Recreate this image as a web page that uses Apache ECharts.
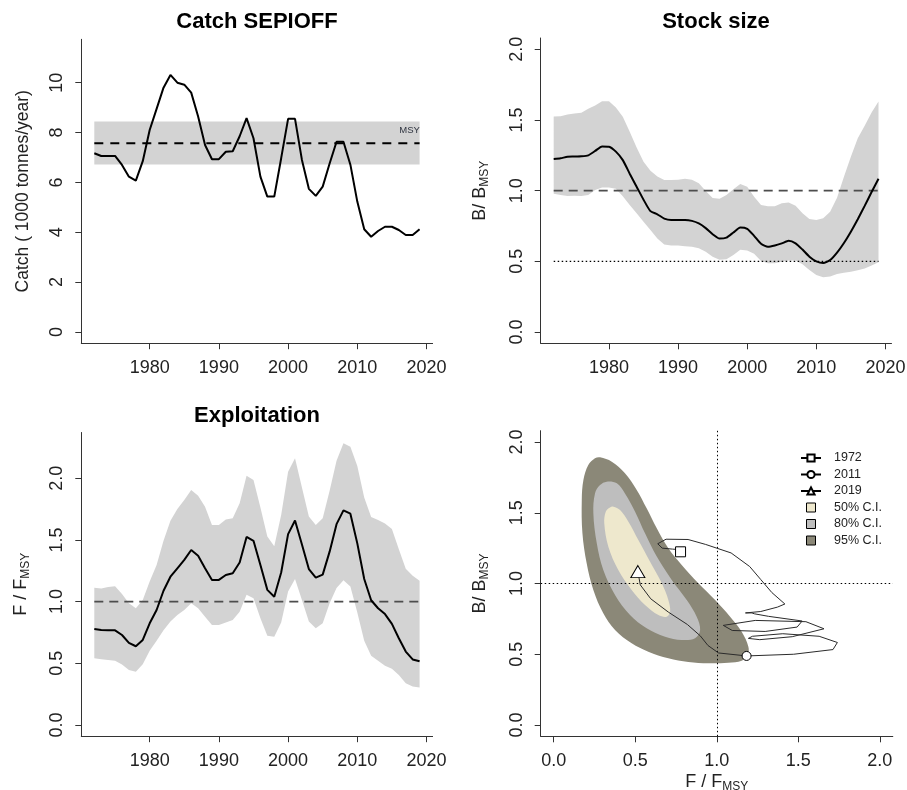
<!DOCTYPE html>
<html>
<head>
<meta charset="utf-8">
<script src="https://cdn.jsdelivr.net/npm/echarts@6/dist/echarts.min.js"></script>
<style>
  html, body { margin: 0; padding: 0; background: #ffffff; }
  #chart { width: 907px; height: 790px; }
</style>
</head>
<body>
<div id="chart"></div>
<script>
// ---- data -------------------------------------------------------------
const years = [1972, 1973, 1974, 1975, 1976, 1977, 1978, 1979, 1980, 1981,
               1982, 1983, 1984, 1985, 1986, 1987, 1988, 1989, 1990, 1991,
               1992, 1993, 1994, 1995, 1996, 1997, 1998, 1999, 2000, 2001,
               2002, 2003, 2004, 2005, 2006, 2007, 2008, 2009, 2010, 2011,
               2012, 2013, 2014, 2015, 2016, 2017, 2018, 2019];

// catch, 1000 tonnes/year
const catchMed = [7.17, 7.06, 7.06, 7.06, 6.70, 6.23, 6.07, 6.85, 8.10, 8.95,
                  9.80, 10.31, 10.00, 9.92, 9.60, 8.64, 7.50, 6.93, 6.93, 7.23,
                  7.25, 7.85, 8.58, 7.77, 6.23, 5.43, 5.43, 6.97, 8.55, 8.55,
                  6.90, 5.74, 5.46, 5.83, 6.76, 7.63, 7.63, 6.71, 5.23, 4.12,
                  3.82, 4.05, 4.22, 4.22, 4.09, 3.89, 3.89, 4.12];
const msy = 7.57;
const msyLo = 6.72;
const msyHi = 8.44;

// relative biomass B/Bmsy
const bMed = [1.224, 1.229, 1.240, 1.241, 1.243, 1.250, 1.281, 1.313, 1.311, 1.276,
              1.216, 1.120, 1.028, 0.936, 0.855, 0.833, 0.802, 0.792, 0.792, 0.792,
              0.786, 0.768, 0.735, 0.692, 0.661, 0.668, 0.704, 0.739, 0.730, 0.680,
              0.624, 0.603, 0.612, 0.627, 0.645, 0.627, 0.583, 0.533, 0.500, 0.488,
              0.509, 0.562, 0.630, 0.710, 0.798, 0.892, 0.990, 1.084];
const bLo = [0.978, 0.969, 0.963, 0.964, 0.963, 0.969, 1.004, 1.022, 1.022, 1.014,
             0.960, 0.899, 0.840, 0.780, 0.721, 0.662, 0.619, 0.612, 0.612, 0.606,
             0.603, 0.592, 0.568, 0.533, 0.511, 0.514, 0.545, 0.582, 0.577, 0.553,
             0.503, 0.486, 0.486, 0.497, 0.506, 0.506, 0.480, 0.438, 0.403, 0.387,
             0.393, 0.410, 0.420, 0.427, 0.436, 0.450, 0.471, 0.494];
const bHi = [1.524, 1.526, 1.538, 1.546, 1.551, 1.579, 1.602, 1.633, 1.633, 1.588,
             1.523, 1.417, 1.305, 1.205, 1.140, 1.100, 1.075, 1.075, 1.078, 1.084,
             1.078, 1.053, 0.998, 0.948, 0.942, 0.969, 1.010, 1.047, 1.028, 0.957,
             0.899, 0.889, 0.889, 0.910, 0.916, 0.893, 0.840, 0.800, 0.792, 0.804,
             0.851, 0.950, 1.099, 1.240, 1.370, 1.460, 1.553, 1.630];
const bTarget = 1.0;
const bLimit = 0.5;

// relative fishing mortality F/Fmsy
const fMed = [0.778, 0.769, 0.767, 0.767, 0.729, 0.665, 0.638, 0.689, 0.824, 0.932,
              1.088, 1.202, 1.270, 1.338, 1.418, 1.372, 1.270, 1.176, 1.176, 1.216,
              1.230, 1.317, 1.524, 1.493, 1.297, 1.095, 1.040, 1.236, 1.547, 1.658,
              1.463, 1.264, 1.194, 1.219, 1.405, 1.628, 1.740, 1.713, 1.472, 1.183,
              1.011, 0.946, 0.899, 0.820, 0.703, 0.595, 0.531, 0.516];
const fLo = [0.540, 0.533, 0.527, 0.520, 0.490, 0.446, 0.432, 0.493, 0.602, 0.683,
             0.767, 0.838, 0.892, 0.932, 0.986, 0.946, 0.878, 0.811, 0.811, 0.830,
             0.851, 0.918, 1.056, 1.027, 0.865, 0.723, 0.716, 0.830, 1.081, 1.183,
             1.014, 0.838, 0.784, 0.824, 0.986, 1.111, 1.173, 1.122, 0.912, 0.682,
             0.561, 0.520, 0.480, 0.455, 0.405, 0.338, 0.311, 0.303];
const fHi = [1.113, 1.106, 1.118, 1.124, 1.061, 0.986, 0.946, 1.013, 1.162, 1.297,
             1.493, 1.655, 1.750, 1.823, 1.905, 1.858, 1.770, 1.622, 1.622, 1.665,
             1.675, 1.797, 2.020, 1.986, 1.763, 1.527, 1.449, 1.703, 2.053, 2.162,
             1.925, 1.689, 1.622, 1.676, 1.898, 2.141, 2.284, 2.256, 2.100, 1.844,
             1.686, 1.662, 1.634, 1.588, 1.425, 1.266, 1.209, 1.169];
const fTarget = 1.0;

// confidence regions of the final-year (F/Fmsy, B/Bmsy) estimate
const ci95 = [[0.284, 1.892], [0.356, 1.861], [0.437, 1.779], [0.509, 1.661], [0.570, 1.531],
              [0.632, 1.390], [0.703, 1.249], [0.785, 1.131], [0.887, 1.001], [0.990, 0.883],
              [1.082, 0.765], [1.153, 0.659], [1.194, 0.553], [1.190, 0.495], [1.153, 0.454],
              [1.071, 0.440], [0.949, 0.436], [0.826, 0.445], [0.703, 0.471], [0.580, 0.518],
              [0.478, 0.577], [0.376, 0.671], [0.304, 0.789], [0.243, 0.954], [0.202, 1.143],
              [0.176, 1.355], [0.172, 1.590], [0.182, 1.731], [0.212, 1.837], [0.253, 1.885]];
const ci80 = [[0.325, 1.720], [0.387, 1.708], [0.437, 1.637], [0.499, 1.508], [0.560, 1.355],
              [0.632, 1.190], [0.724, 1.025], [0.816, 0.883], [0.877, 0.765], [0.898, 0.671],
              [0.867, 0.613], [0.785, 0.601], [0.683, 0.624], [0.570, 0.683], [0.468, 0.777],
              [0.376, 0.919], [0.304, 1.095], [0.264, 1.284], [0.243, 1.496], [0.253, 1.637],
              [0.284, 1.696]];
const ci50 = [[0.366, 1.543], [0.407, 1.519], [0.458, 1.437], [0.519, 1.307], [0.591, 1.154],
              [0.663, 1.001], [0.703, 0.883], [0.714, 0.801], [0.693, 0.765], [0.642, 0.777],
              [0.560, 0.848], [0.478, 0.954], [0.396, 1.095], [0.335, 1.260], [0.310, 1.425],
              [0.319, 1.508], [0.345, 1.538]];

// tick positions
const yearTicks = [1980, 1990, 2000, 2010, 2020];
const catchTicks = [0, 2, 4, 6, 8, 10];
const ratioTicks = [0, 0.5, 1.0, 1.5, 2.0];

// ---- styling helpers ---------------------------------------------------
const FONT = '"Liberation Sans", Arial, Helvetica, sans-serif';
const AXIS_COL = '#333333';
const BAND_COL = '#d3d3d3';

function pairs(xs, ys) { return xs.map((x, i) => [x, ys[i]]); }

function valueAxis(gridIndex, min, max, ticks, fmt, isY, extra) {
  return Object.assign({
    gridIndex: gridIndex,
    type: 'value',
    min: min,
    max: max,
    axisLine: { show: true, onZero: false, lineStyle: { color: AXIS_COL, width: 1 } },
    axisTick: { show: true, inside: false, length: 6, customValues: ticks,
                lineStyle: { color: AXIS_COL, width: 1 } },
    axisLabel: { show: true, customValues: ticks, formatter: fmt,
                 rotate: isY ? 90 : 0, margin: isY ? 15 : 16,
                 fontSize: 18, color: '#222222', fontFamily: FONT },
    splitLine: { show: false },
    nameLocation: 'middle',
    nameTextStyle: { fontSize: 17.5, color: '#222222', fontFamily: FONT }
  }, extra || {});
}

const subRich = {
  n: { fontSize: 18, color: '#222222', fontFamily: FONT },
  s: { fontSize: 12, color: '#222222', fontFamily: FONT, verticalAlign: 'bottom', padding: [9, 0, 0, 0] }
};

// uncertainty envelope between lo and hi as a filled polygon
function band(gridIndex, xs, lo, hi, color) {
  return {
    type: 'custom', xAxisIndex: gridIndex, yAxisIndex: gridIndex, silent: true, z: 1,
    data: [[xs[0], lo[0]]],
    renderItem: function (params, api) {
      const top = xs.map((x, i) => api.coord([x, hi[i]]));
      const bottom = xs.map((x, i) => api.coord([x, lo[i]])).reverse();
      return { type: 'polygon', shape: { points: top.concat(bottom) }, style: { fill: color } };
    }
  };
}

// closed confidence contour in the (F, B) plane
function region(name, pts, color, z) {
  return {
    type: 'custom', name: name, xAxisIndex: 3, yAxisIndex: 3, silent: true, z: z,
    itemStyle: { color: color },
    data: [pts[0]],
    renderItem: function (params, api) {
      return { type: 'polygon',
               shape: { points: pts.map(p => api.coord(p)), smooth: 0.35 },
               style: { fill: color } };
    }
  };
}

function refLine(gridIndex, y, color, dash, width) {
  return {
    type: 'line', xAxisIndex: gridIndex, yAxisIndex: gridIndex, silent: true, z: 3,
    data: [[years[0], y], [years[years.length - 1], y]],
    showSymbol: false,
    lineStyle: { color: color, type: dash, width: width }
  };
}

function medianLine(gridIndex, ys, smooth) {
  return {
    type: 'line', xAxisIndex: gridIndex, yAxisIndex: gridIndex, silent: true, z: 5,
    data: pairs(years, ys), showSymbol: false, smooth: smooth,
    lineStyle: { color: '#000000', width: 2 }
  };
}

function marker(name, idx, symbol, size) {
  return {
    type: 'line', name: name, xAxisIndex: 3, yAxisIndex: 3, z: 8, silent: true,
    data: [[fMed[idx], bMed[idx]]],
    symbol: symbol, symbolSize: size, showSymbol: true,
    itemStyle: { color: '#ffffff', borderColor: '#000000', borderWidth: 1 },
    lineStyle: { color: '#000000', width: 1 }
  };
}

const fmt0 = v => String(Math.round(v));
const fmt1 = v => v.toFixed(1);
const yearFmt = v => String(Math.round(v));

const iLast = years.length - 1;
const i2011 = years.indexOf(2011);

const option = {
  animation: false,
  backgroundColor: '#ffffff',
  grid: [
    { left: 81.3, top: 39.3, width: 351.3, height: 303.9, outerBoundsMode: 'none' },
    { left: 540.7, top: 38.0, width: 350.8, height: 305.3, outerBoundsMode: 'none' },
    { left: 81.3, top: 432.5, width: 351.3, height: 303.7, outerBoundsMode: 'none' },
    { left: 540.7, top: 430.7, width: 352.1, height: 305.6, outerBoundsMode: 'none' }
  ],
  xAxis: [
    valueAxis(0, 1970.12, 2020.88, yearTicks, yearFmt, false),
    valueAxis(1, 1970.12, 2020.88, yearTicks, yearFmt, false),
    valueAxis(2, 1970.12, 2020.88, yearTicks, yearFmt, false),
    valueAxis(3, -0.08, 2.08, ratioTicks, fmt1, false, {
      name: '{n|F / F}{s|MSY}', nameGap: 35,
      nameTextStyle: { rich: subRich }
    })
  ],
  yAxis: [
    valueAxis(0, -0.452, 11.74, catchTicks, fmt0, true, {
      name: 'Catch ( 1000 tonnes/year)', nameGap: 49, nameRotate: 90
    }),
    valueAxis(1, -0.08, 2.08, ratioTicks, fmt1, true, {
      name: '{n|B/ B}{s|MSY}', nameGap: 50, nameRotate: 90,
      nameTextStyle: { rich: subRich }
    }),
    valueAxis(2, -0.0912, 2.371, ratioTicks, fmt1, true, {
      name: '{n|F / F}{s|MSY}', nameGap: 50, nameRotate: 90,
      nameTextStyle: { rich: subRich }
    }),
    valueAxis(3, -0.08, 2.08, ratioTicks, fmt1, true, {
      name: '{n|B/ B}{s|MSY}', nameGap: 50, nameRotate: 90,
      nameTextStyle: { rich: subRich }
    })
  ],
  graphic: [
    { type: 'text', x: 257, y: 22, silent: true,
      style: { text: 'Catch SEPIOFF', align: 'center', verticalAlign: 'middle',
               fontSize: 22, fontWeight: 'bold', fontFamily: FONT, fill: '#000000' } },
    { type: 'text', x: 716, y: 22, silent: true,
      style: { text: 'Stock size', align: 'center', verticalAlign: 'middle',
               fontSize: 22, fontWeight: 'bold', fontFamily: FONT, fill: '#000000' } },
    { type: 'text', x: 257, y: 415.5, silent: true,
      style: { text: 'Exploitation', align: 'center', verticalAlign: 'middle',
               fontSize: 22, fontWeight: 'bold', fontFamily: FONT, fill: '#000000' } }
  ],
  legend: {
    orient: 'vertical', left: 800, top: 451.5, padding: 0,
    itemWidth: 20, itemHeight: 9, itemGap: 3.5,
    selectedMode: false,
    textStyle: { fontSize: 12.5, color: '#222222', fontFamily: FONT, padding: [0, 0, 0, 8] },
    data: [
      { name: '1972' },
      { name: '2011' },
      { name: '2019' },
      { name: '50% C.I.', icon: 'path://M0,0L10,0L10,10L0,10Z',
        itemStyle: { color: '#eee8cd', borderColor: '#000000', borderWidth: 1 } },
      { name: '80% C.I.', icon: 'path://M0,0L10,0L10,10L0,10Z',
        itemStyle: { color: '#bebebe', borderColor: '#000000', borderWidth: 1 } },
      { name: '95% C.I.', icon: 'path://M0,0L10,0L10,10L0,10Z',
        itemStyle: { color: '#8b8878', borderColor: '#000000', borderWidth: 1 } }
    ]
  },
  series: [
    // catch panel
    band(0, [years[0], years[iLast]], [msyLo, msyLo], [msyHi, msyHi], BAND_COL),
    {
      type: 'line', xAxisIndex: 0, yAxisIndex: 0, silent: true, z: 3,
      data: [[years[0], msy], [years[iLast], msy]], showSymbol: false,
      lineStyle: { color: '#000000', type: [9, 7], width: 2 },
      markPoint: {
        symbol: 'circle', symbolSize: 0, silent: true,
        label: { show: true, formatter: 'MSY', position: 'top', distance: 8,
                 fontSize: 9.5, color: '#2f3440', fontFamily: FONT, offset: [-10, 0] },
        data: [{ coord: [years[iLast], msy] }]
      }
    },
    medianLine(0, catchMed, false),

    // stock size panel
    band(1, years, bLo, bHi, BAND_COL),
    refLine(1, bTarget, '#4d4d4d', [9, 6], 1.6),
    refLine(1, bLimit, '#000000', [1.5, 2.5], 1.2),
    medianLine(1, bMed, 0.2),

    // exploitation panel
    band(2, years, fLo, fHi, BAND_COL),
    refLine(2, fTarget, '#4d4d4d', [9, 6], 1.6),
    medianLine(2, fMed, false),

    // kobe phase plot
    region('95% C.I.', ci95, '#8b8878', 1),
    region('80% C.I.', ci80, '#bebebe', 2),
    region('50% C.I.', ci50, '#eee8cd', 3),
    {
      type: 'line', xAxisIndex: 3, yAxisIndex: 3, silent: true, z: 4,
      data: [], showSymbol: false,
      markLine: {
        silent: true, symbol: 'none', label: { show: false },
        lineStyle: { color: '#000000', type: [1.5, 2.5], width: 1 },
        data: [{ xAxis: fTarget }, { yAxis: bTarget }]
      }
    },
    {
      type: 'line', xAxisIndex: 3, yAxisIndex: 3, silent: true, z: 6,
      data: pairs(fMed, bMed), showSymbol: false,
      lineStyle: { color: '#2b2b2b', width: 1 }
    },
    marker('1972', 0, 'rect', 10),
    marker('2011', i2011, 'circle', 9),
    marker('2019', iLast, 'triangle', [14, 12])
  ]
};

const chart = echarts.init(document.getElementById('chart'), null, { renderer: 'canvas' });
chart.setOption(option);
</script>
</body>
</html>
